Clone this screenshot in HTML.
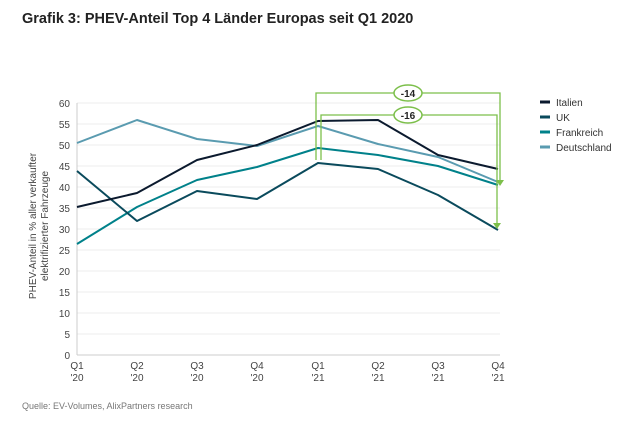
<!DOCTYPE html>
<html><head><style>body{margin:0;background:#fff}svg{display:block;font-family:"Liberation Sans",sans-serif}</style></head><body>
<svg width="627" height="428" viewBox="0 0 627 428">
<text x="22" y="23" font-size="14.5" font-weight="bold" fill="#222">Grafik 3: PHEV-Anteil Top 4 Länder Europas seit Q1 2020</text>
<g stroke="#eeeeee" stroke-width="1">
<line x1="77" x2="500" y1="103" y2="103"/><line x1="77" x2="500" y1="124" y2="124"/><line x1="77" x2="500" y1="145" y2="145"/><line x1="77" x2="500" y1="166" y2="166"/><line x1="77" x2="500" y1="187" y2="187"/><line x1="77" x2="500" y1="208" y2="208"/><line x1="77" x2="500" y1="229" y2="229"/><line x1="77" x2="500" y1="250" y2="250"/><line x1="77" x2="500" y1="271" y2="271"/><line x1="77" x2="500" y1="292" y2="292"/><line x1="77" x2="500" y1="313" y2="313"/><line x1="77" x2="500" y1="334" y2="334"/>
</g>
<line x1="77" x2="77" y1="103" y2="355" stroke="#ccc"/><line x1="77" x2="500" y1="355" y2="355" stroke="#ccc"/>
<g font-size="10" fill="#444" text-anchor="end">
<text x="70" y="107">60</text><text x="70" y="128">55</text><text x="70" y="149">50</text><text x="70" y="170">45</text><text x="70" y="191">40</text><text x="70" y="212">35</text><text x="70" y="233">30</text><text x="70" y="254">25</text><text x="70" y="275">20</text><text x="70" y="296">15</text><text x="70" y="317">10</text><text x="70" y="338">5</text><text x="70" y="359">0</text>
</g>
<g font-size="10" fill="#444" text-anchor="middle">
<text x="77" y="369">Q1</text><text x="77" y="381">'20</text>
<text x="137" y="369">Q2</text><text x="137" y="381">'20</text>
<text x="197" y="369">Q3</text><text x="197" y="381">'20</text>
<text x="257" y="369">Q4</text><text x="257" y="381">'20</text>
<text x="318" y="369">Q1</text><text x="318" y="381">'21</text>
<text x="378" y="369">Q2</text><text x="378" y="381">'21</text>
<text x="438" y="369">Q3</text><text x="438" y="381">'21</text>
<text x="498" y="369">Q4</text><text x="498" y="381">'21</text>
</g>
<g font-size="10" fill="#444" text-anchor="middle" transform="translate(36,226) rotate(-90)">
<text x="0" y="0">PHEV-Anteil in % aller verkaufter</text><text x="0" y="12">elektrifizierter  Fahrzeuge</text>
</g>
<g fill="none" stroke-width="2" stroke-linejoin="round">
<polyline stroke="#5a9bb0" points="77,143 137,120 197,139 257,146 318,126 378,144 438,157 498,182"/>
<polyline stroke="#00818a" points="77,244 137,207 197,180 257,167 318,148 378,155 438,166 498,185"/>
<polyline stroke="#0a4a5c" points="77,171 137,221 197,191 257,199 318,163 378,169 438,195 498,230"/>
<polyline stroke="#0b1a2e" points="77,207 137,193 197,160 257,145 318,121 378,120 438,155 498,169"/>
</g>
<g fill="none" stroke="#7cbf4a" stroke-width="1.3">
<polyline points="316,160 316,93 500,93 500,181"/>
<polyline points="321,160 321,115 497,115 497,224"/>
</g>
<polygon points="496,180 504,180 500,186" fill="#7cbf4a"/>
<polygon points="493,223 501,223 497,229" fill="#7cbf4a"/>
<ellipse cx="408" cy="93" rx="14" ry="8" fill="#fff" stroke="#7cbf4a" stroke-width="1.5"/>
<ellipse cx="408" cy="115" rx="14" ry="8" fill="#fff" stroke="#7cbf4a" stroke-width="1.5"/>
<text x="408" y="97" font-size="10" font-weight="bold" text-anchor="middle" fill="#222">-14</text>
<text x="408" y="119" font-size="10" font-weight="bold" text-anchor="middle" fill="#222">-16</text>
<g stroke-width="3">
<line x1="540" x2="550" y1="102" y2="102" stroke="#0b1a2e"/>
<line x1="540" x2="550" y1="117" y2="117" stroke="#0a4a5c"/>
<line x1="540" x2="550" y1="132" y2="132" stroke="#00818a"/>
<line x1="540" x2="550" y1="147" y2="147" stroke="#5a9bb0"/>
</g>
<g font-size="10" fill="#333">
<text x="556" y="106">Italien</text><text x="556" y="121">UK</text><text x="556" y="136">Frankreich</text><text x="556" y="151">Deutschland</text>
</g>
<text x="22" y="409" font-size="9" fill="#777">Quelle: EV-Volumes, AlixPartners research</text>
</svg>
</body></html>
